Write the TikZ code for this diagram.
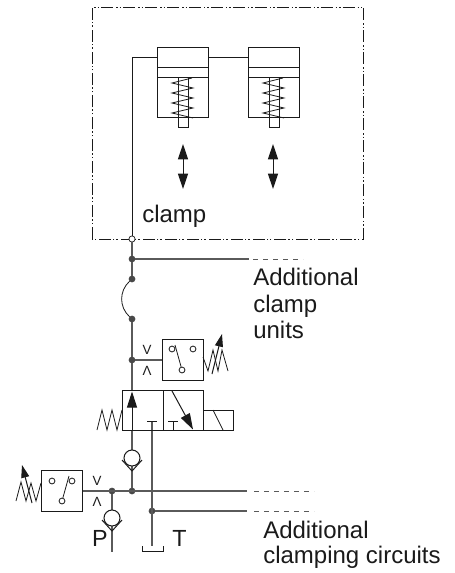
\documentclass[tikz,border=0pt]{standalone}
\usepackage{fontspec}
\setmainfont{Liberation Sans}
\usetikzlibrary{arrows.meta}
\definecolor{ink}{HTML}{1A1A1A}
\definecolor{pipe}{HTML}{5A5A5A}
\tikzset{
  x=0.75pt,y=-0.75pt,
  sym/.style={draw=ink,line width=0.75pt,line join=miter},
  thin sym/.style={draw=ink,line width=0.6pt},
  pipeline/.style={draw=pipe,line width=0.8pt},
  boundary/.style={draw=ink,line width=0.7pt,dash pattern=on 9pt off 2.25pt on 1.1pt off 1.5pt on 1.1pt off 1.5pt},
  tail/.style={draw=pipe,line width=0.6pt,dash pattern=on 3.6pt off 3.9pt},
  dot/.style={circle,fill=pipe!80!black,draw=pipe!80!black,inner sep=0pt,minimum size=4.6pt},
  hollow/.style={circle,fill=white,draw=ink,line width=0.55pt,inner sep=0pt,minimum size=4.6pt},
  port/.style={circle,fill=white,draw=ink,line width=0.6pt,inner sep=0pt,minimum size=4.4pt},
  dbl/.style={draw=ink,line width=0.75pt,{Triangle[length=11.5pt,width=7.5pt]}-{Triangle[length=11.5pt,width=7.5pt]}},
  tip/.style={draw=ink,line width=0.75pt,-{Triangle[length=12pt,width=7.5pt]}},
  tipsmall/.style={draw=ink,line width=0.75pt,-{Triangle[length=9.5pt,width=6pt]}},
  txt/.style={anchor=base west,inner sep=0pt,font=\fontsize{18pt}{20pt}\selectfont,text=ink},
  big/.style={anchor=base,inner sep=0pt,font=\fontsize{17.5pt}{20pt}\selectfont,text=ink},
  sense/.style={inner sep=0pt,font=\fontsize{10pt}{10pt}\selectfont,text=ink},
}
\begin{document}
\begin{tikzpicture}
\useasboundingbox (0,0) rectangle (454,573);
% boundary
\draw[boundary] (92,239) -- (92,7) -- (363,7) -- (363,239) -- cycle;
% cylinders
\foreach \xa in {157,248}{
  \draw[sym] (\xa,47.7) rectangle (\xa+51,118);
  \draw[sym] (\xa,68) -- (\xa+51,68);
  \draw[sym] (\xa,78) -- (\xa+51,78);
  \draw[sym] (\xa+21,78) -- (\xa+21,128) -- (\xa+31,128) -- (\xa+31,78);
  \draw[thin sym] (\xa+35,78) -- (\xa+15,83) -- (\xa+36,88) -- (\xa+15,93) -- (\xa+36,98) -- (\xa+15,103) -- (\xa+36,108) -- (\xa+15,113) -- (\xa+36,118);
}
\draw[dbl] (183,144) -- (183,189);
\draw[dbl] (273,144) -- (273,189);
% junctions
\node[hollow] (j0) at (132,239) {};
\node[dot] (j1) at (132,259) {};
\node[dot] (j2) at (132,279) {};
\node[dot] (j3) at (132,319) {};
\node[dot] (j4) at (132,360) {};
\node[dot] (j5) at (132,491) {};
\node[dot] (j6) at (112,491) {};
\node[dot] (j7) at (152,511) {};
\coordinate (c1l) at (157,57.5);
\coordinate (c1r) at (208,57.5);
\coordinate (c2l) at (248,57.5);
\coordinate (corner) at (132,57.5);
\coordinate (addA) at (249,259);
\coordinate (addAs) at (253,259);
\coordinate (addAe) at (303,259);
\coordinate (v1) at (132,390);
\coordinate (addB) at (247,491);
\coordinate (addBs) at (254,491);
\coordinate (addBe) at (314,491);
\coordinate (addC) at (247,511);
\coordinate (addCs) at (254,511);
\coordinate (addCe) at (314,511);
% pipes
\draw[sym] (c1l) -- (corner) -- (j0);
\draw[sym] (c1r) -- (c2l);
\draw[pipeline] (j0) -- (j1) -- (j2);
\draw[thin sym] (j2) .. controls (119,291) and (119,307) .. (j3);
\draw[pipeline] (j3) -- (j4) -- (v1);
\draw[pipeline] (j1) -- (addA);
\draw[tail] (addAs) -- (addAe);
\draw[pipeline] (132,430) -- (j5);
\draw[pipeline] (82,491) -- (addB);
\draw[tail] (addBs) -- (addBe);
\draw[pipeline] (j7) -- (addC);
\draw[tail] (addCs) -- (addCe);
\draw[pipeline] (j6) -- (112,552);
\draw[pipeline] (152,421) -- (152,546);
\draw[pipeline] (j4) -- (162,360);
% upper switch
\node[draw=ink,line width=0.75pt,minimum size=30.75pt,inner sep=0pt] (swA) at (182.5,359.5) {};
\node[port] (a1) at (172,349) {};
\node[port] (a2) at (193,349) {};
\node[port] (a3) at (182,370) {};
\draw[thin sym] (175,345) -- (a3);
\draw[thin sym] (203,357) -- (208,371) -- (213,350) -- (218,371) -- (222,350) -- (228,371);
\draw[tipsmall] (212,374) -- (222,334);
\node[sense] (va) at (147,350) {V};
\node[sense] (vb) at (147,371) {Λ};
% valve
\draw[sym] (122,390) rectangle (163,430);
\draw[sym] (163,390) rectangle (203,430);
\draw[sym] (203,410) rectangle (233,430);
\draw[thin sym] (213,410) -- (223,430);
\draw[thin sym] (97,430) -- (102,410) -- (107,430) -- (112,410) -- (117,430) -- (122,410);
\draw[tip] (132,430) -- (132,391.5);
\draw[sym] (147,421) -- (157,421);
\draw[sym] (168,421) -- (178,421);
\draw[sym] (173,421) -- (173,430);
\draw[tip] (172,391) -- (193,429.5);
% check valves
\foreach \cx/\cy in {132/458,112/518}{
  \draw[fill=white,draw=ink,line width=0.75pt] (\cx,\cy) circle[radius=8];
  \draw[sym] (\cx-10,\cy+2) -- (\cx,\cy+13) -- (\cx+10,\cy+2);
}
% lower switch
\node[draw=ink,line width=0.75pt,minimum size=30.75pt,inner sep=0pt] (swB) at (62,490.5) {};
\node[port] (b1) at (52,481) {};
\node[port] (b2) at (72,481) {};
\node[port] (b3) at (62,501) {};
\draw[thin sym] (69,476) -- (b3);
\draw[thin sym] (16,501) -- (21,482) -- (26,501) -- (31,483) -- (36,501) -- (41,483);
\draw[tipsmall] (32,503) -- (22,465);
\node[sense] (vc) at (97,481) {V};
\node[sense] (vd) at (97,502) {Λ};
% tank
\draw[sym] (142,546) -- (142,551) -- (163,551) -- (163,546);
% text
\node[txt] (t1) at (142,223) {clamp};
\node[txt] (t2) at (253,285.5) {Additional};
\node[txt] (t3) at (253,312) {clamp};
\node[txt] (t4) at (253,338) {units};
\node[txt] (t5) at (263,538) {Additional};
\node[txt] (t6) at (263,563) {clamping circuits};
\node[big] (p) at (100,546) {P};
\node[big] (t) at (179.5,546) {T};
\end{tikzpicture}
\end{document}
